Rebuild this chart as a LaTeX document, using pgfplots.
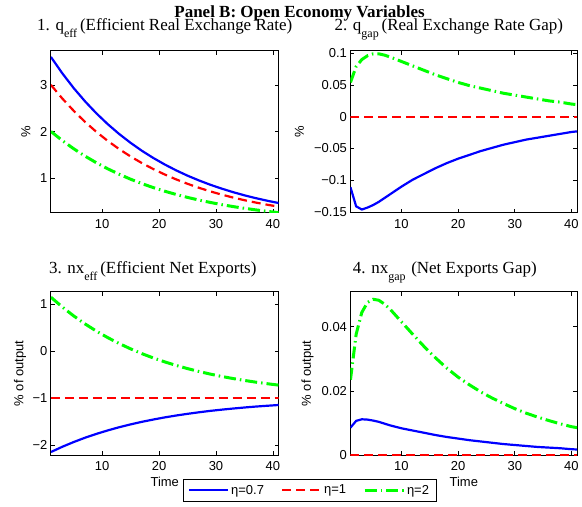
\documentclass[border=0pt]{standalone}
\usepackage{pgfplots}
\pgfplotsset{compat=1.18}
\usepackage{fontspec}
\setmainfont{Liberation Serif}
\newfontfamily\hv{Liberation Sans}
\newcommand\sub[1]{\raisebox{-7pt}{\fontsize{12}{12}\selectfont #1}\,}
\definecolor{mblue}{RGB}{0,0,255}
\definecolor{mred}{RGB}{255,0,0}
\definecolor{mgreen}{RGB}{0,255,0}
\begin{document}
\begin{tikzpicture}[x=1pt,y=1pt]
\path (0,0) rectangle (582,507);
\pgfplotsset{
  panel/.style={scale only axis, xmin=1, xmax=41, xtick={10,20,30,40},
    tick align=inside, major tick length=4pt,
    scaled y ticks=false, scaled x ticks=false,
    axis line style={line width=0.9pt},
    every tick/.style={black, line width=0.6pt},
    ticklabel style={font=\hv\fontsize{13}{13}\selectfont},
    xticklabel style={yshift=-3pt},
    /pgf/number format/assume math mode=true,
    label style={font=\hv\fontsize{13}{13}\selectfont},
    title style={font=\fontsize{17}{17}\selectfont, at={(0.5,1)}, anchor=base, yshift=14pt},
  },
  sblue/.style={color=mblue, line width=2.2pt, solid},
  sred/.style={color=mred, line width=2.2pt, dash pattern=on 9pt off 5pt},
  sgreen/.style={color=mgreen, line width=3pt, dash pattern=on 12pt off 4pt on 1.5pt off 4pt},
}
% Panel 1
\begin{axis}[panel, at={(51pt,294pt)}, anchor=south west, width=228pt, height=162pt,
  ymin=0.256, ymax=3.73, ytick={1,2,3},
  ylabel={\%}, ylabel style={at={(axis description cs:-0.11,0.5)}, anchor=center},
  title={1. q\sub{eff}(Efficient Real Exchange Rate)}]
\addplot[sblue] coordinates {(1,3.600)(3,3.249)(5,2.932)(7,2.646)(9,2.388)(11,2.155)(13,1.945)(15,1.756)(17,1.584)(19,1.430)(21,1.291)(23,1.165)(25,1.051)(27,0.949)(29,0.856)(31,0.773)(33,0.697)(35,0.629)(37,0.568)(39,0.513)(41,0.463)};
\addplot[sred] coordinates {(1,3.000)(3,2.708)(5,2.444)(7,2.205)(9,1.990)(11,1.796)(13,1.621)(15,1.463)(17,1.320)(19,1.192)(21,1.076)(23,0.971)(25,0.876)(27,0.791)(29,0.713)(31,0.644)(33,0.581)(35,0.524)(37,0.473)(39,0.427)(41,0.386)};
\addplot[sgreen] coordinates {(1,2.000)(3,1.805)(5,1.629)(7,1.470)(9,1.327)(11,1.197)(13,1.081)(15,0.975)(17,0.880)(19,0.794)(21,0.717)(23,0.647)(25,0.584)(27,0.527)(29,0.476)(31,0.429)(33,0.387)(35,0.350)(37,0.316)(39,0.285)(41,0.257)};
\end{axis}
% Panel 2
\begin{axis}[panel, at={(351pt,294pt)}, anchor=south west, width=227pt, height=162pt,
  ymin=-0.151, ymax=0.1036, ytick={-0.15,-0.1,-0.05,0,0.05,0.1},
  yticklabels={−0.15,−0.1,−0.05,0,0.05,0.1},
  ylabel={\%}, ylabel style={at={(axis description cs:-0.225,0.5)}, anchor=center},
  title={2. q\sub{gap}(Real Exchange Rate Gap)}, title style={xshift=-15pt}]
\addplot[sblue] coordinates {(1,-0.111)(2,-0.141)(3,-0.146)(4,-0.143)(5,-0.139)(6,-0.134)(8,-0.122)(10,-0.110)(12,-0.099)(14,-0.090)(16,-0.081)(18,-0.073)(20,-0.066)(22,-0.060)(24,-0.054)(26,-0.049)(28,-0.044)(30,-0.040)(32,-0.036)(34,-0.033)(36,-0.030)(38,-0.027)(40,-0.024)(41,-0.023)};
\addplot[sred] coordinates {(1,0)(41,0)};
\addplot[sgreen] coordinates {(1,0.054)(2,0.079)(3,0.090)(4,0.096)(5,0.099)(6,0.099)(7,0.097)(8,0.094)(10,0.087)(12,0.080)(14,0.073)(16,0.066)(18,0.060)(20,0.054)(22,0.049)(24,0.045)(26,0.041)(28,0.037)(30,0.034)(32,0.031)(34,0.028)(36,0.025)(38,0.023)(40,0.020)(41,0.019)};
\end{axis}
% Panel 3
\begin{axis}[panel, at={(51pt,51pt)}, anchor=south west, width=228pt, height=164pt,
  ymin=-2.22, ymax=1.27, ytick={-2,-1,0,1}, yticklabels={−2,−1,0,1},
  ylabel={\% of output}, ylabel style={at={(axis description cs:-0.136,0.5)}, anchor=center},
  xlabel={Time}, xlabel style={at={(axis description cs:0.5,-0.165)}, anchor=center},
  title={3. nx\sub{eff}(Efficient Net Exports)}, title style={yshift=-2pt, xshift=-12pt},
  legend columns=3,
  legend image code/.code={\draw[#1] (0pt,0pt) -- (39pt,0pt);},
  legend style={at={(axis description cs:1.136,-0.2134)}, anchor=center, draw=black, line width=0.8pt,
    font=\hv\fontsize{13}{13}\selectfont, inner xsep=5pt, inner ysep=3.5pt,
    /tikz/every even column/.append style={column sep=15pt}},
  ]
\addplot[sblue] coordinates {(1,-2.150)(3,-2.038)(5,-1.937)(7,-1.845)(9,-1.763)(11,-1.689)(13,-1.621)(15,-1.561)(17,-1.506)(19,-1.457)(21,-1.412)(23,-1.372)(25,-1.336)(27,-1.303)(29,-1.273)(31,-1.247)(33,-1.223)(35,-1.201)(37,-1.181)(39,-1.164)(41,-1.148)};
\addlegendentry{η=0.7}
\addplot[sred] coordinates {(1,-1)(41,-1)};
\addlegendentry{η=1}
\addplot[sgreen] coordinates {(1,1.150)(3,0.940)(5,0.751)(7,0.580)(9,0.426)(11,0.287)(13,0.162)(15,0.049)(17,-0.054)(19,-0.146)(21,-0.229)(23,-0.304)(25,-0.372)(27,-0.433)(29,-0.489)(31,-0.539)(33,-0.584)(35,-0.624)(37,-0.661)(39,-0.694)(41,-0.724)};
\addlegendentry{η=2}
\end{axis}
% Panel 4
\begin{axis}[panel, at={(351pt,51pt)}, anchor=south west, width=227pt, height=164pt,
  ymin=0, ymax=0.0509, ytick={0,0.02,0.04}, yticklabels={0,0.02,0.04},
  ylabel={\% of output}, ylabel style={at={(axis description cs:-0.19,0.5)}, anchor=center},
  xlabel={Time}, xlabel style={at={(axis description cs:0.5,-0.165)}, anchor=center},
  title={4. nx\sub{gap}\,(Net Exports Gap)}, title style={yshift=-2pt, xshift=-19pt}]
\addplot[sblue] coordinates {(1,0.0086)(2,0.0107)(3,0.0112)(4,0.0111)(5,0.0108)(6,0.0104)(8,0.0093)(10,0.0084)(12,0.0077)(14,0.0070)(16,0.0063)(18,0.0057)(20,0.0052)(22,0.0047)(24,0.0043)(26,0.0039)(28,0.0035)(30,0.0032)(32,0.0029)(34,0.0026)(36,0.0024)(38,0.0022)(40,0.0019)(41,0.0018)};
\addplot[sred] coordinates {(1,0)(41,0)};
\addplot[sgreen] coordinates {(1,0.0235)(2,0.0376)(3,0.0444)(4,0.0475)(5,0.0485)(6,0.0482)(7,0.0470)(8,0.0454)(10,0.0415)(12,0.0376)(14,0.0338)(16,0.0303)(18,0.0271)(20,0.0243)(22,0.0219)(24,0.0197)(26,0.0178)(28,0.0161)(30,0.0145)(32,0.0131)(34,0.0119)(36,0.0108)(38,0.0098)(40,0.0089)(41,0.0086)};
\end{axis}
\node[font=\bfseries\fontsize{17}{17}\selectfont, anchor=base] at (300,489) {Panel B: Open Economy Variables};
\end{tikzpicture}
\end{document}
